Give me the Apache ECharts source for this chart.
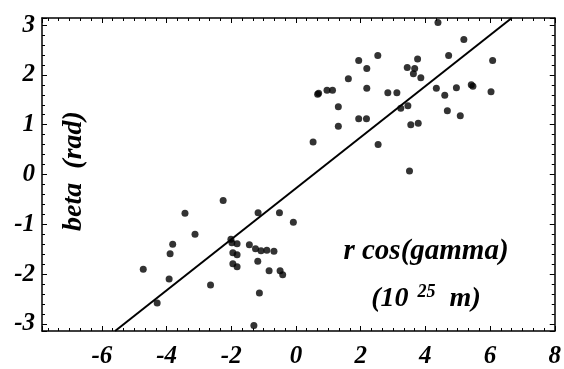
<!DOCTYPE html>
<html>
<head>
<meta charset="utf-8">
<script src="https://cdn.jsdelivr.net/npm/echarts@6/dist/echarts.min.js"></script>
<style>
  html, body { margin: 0; padding: 0; background: #fff; }
  #chart { width: 564px; height: 369px; }
</style>
</head>
<body>
<div id="chart"></div>
<script>
  // r cos(gamma) values, 10^25 m
  var xVals = [-4.72, -4.29, -3.92, -3.89, -3.81, -3.43, -3.12, -2.64, -2.25, -2.01,
    -1.98, -1.82, -1.95, -1.82, -1.95, -1.82, -1.44, -1.25, -1.08, -0.90,
    -0.68, -1.18, -1.17, -0.51, -0.08, -0.83, -0.49, -0.41, -1.13, -1.30,
    0.53, 0.67, 0.70, 0.96, 1.13, 1.31, 1.31, 1.62, 1.94, 1.94,
    2.18, 2.19, 2.19, 2.53, 2.54, 2.84, 3.12, 3.24, 3.46, 3.44,
    3.67, 3.63, 3.86, 3.76, 3.51, 3.55, 3.78, 4.34, 4.39, 4.60,
    4.68, 4.72, 4.96, 5.08, 5.19, 5.42, 5.47, 6.03, 6.08];
  // beta values, rad
  var yVals = [-1.90, -2.58, -2.10, -1.59, -1.40, -0.78, -1.20, -2.22, -0.52, -1.30,
    -1.37, -1.39, -1.57, -1.61, -1.79, -1.85, -1.41, -1.49, -1.53, -1.52,
    -1.54, -1.74, -0.77, -0.77, -0.96, -1.93, -1.93, -2.01, -2.38, -3.03,
    0.65, 1.61, 1.63, 1.69, 1.69, 1.36, 0.97, 1.92, 2.29, 1.12,
    1.12, 2.13, 1.73, 2.39, 0.60, 1.64, 1.64, 1.33, 1.38, 2.15,
    2.13, 2.02, 1.94, 2.32, 0.07, 1.00, 1.03, 1.73, 3.05, 1.59,
    1.28, 2.39, 1.74, 1.18, 2.71, 1.80, 1.77, 1.66, 2.29];
  // fitted line end points
  var fitX = [-5.59, 6.67];
  var fitY = [-3.14, 3.14];

  var xMin = -7.85, xMax = 8;
  var yMin = -Math.PI, yMax = Math.PI;

  var font = '"Liberation Serif", "DejaVu Serif", serif';

  function intLabel(v) {
    return Math.abs(v - Math.round(v)) < 1e-6 ? String(Math.round(v)) : '';
  }

  var points = xVals.map(function (x, i) { return [x, yVals[i]]; });
  var line = fitX.map(function (x, i) { return [x, fitY[i]]; });

  var myChart = echarts.init(document.getElementById('chart'));

  var baseAxis = {
    type: 'value',
    axisLine: { show: true, onZero: false, lineStyle: { color: '#000', width: 1.5 } },
    axisTick: { show: true, inside: true, length: 5, lineStyle: { color: '#000' } },
    splitLine: { show: false },
    minorSplitLine: { show: false }
  };

  var labelStyle = {
    color: '#000', fontSize: 25, fontWeight: 'bold', fontStyle: 'italic',
    fontFamily: font, formatter: intLabel, showMinLabel: false, showMaxLabel: true
  };

  var option = {
    animation: false,
    grid: { left: 42, right: 9, top: 18, bottom: 36 },
    xAxis: [
      Object.assign({}, baseAxis, {
        min: xMin, max: xMax, splitNumber: 8, position: 'bottom',
        minorTick: { show: true, splitNumber: 6, length: 3, lineStyle: { color: '#000' } },
        axisLabel: Object.assign({ margin: 13 }, labelStyle)
      }),
      Object.assign({}, baseAxis, {
        min: xMin, max: xMax, splitNumber: 8, position: 'top',
        minorTick: { show: true, splitNumber: 6, length: 3, lineStyle: { color: '#000' } },
        axisLabel: { show: false }
      })
    ],
    yAxis: [
      Object.assign({}, baseAxis, {
        min: yMin, max: yMax, splitNumber: 6, position: 'left',
        minorTick: { show: true, splitNumber: 5, length: 3, lineStyle: { color: '#000' } },
        axisLabel: Object.assign({ margin: 7 }, labelStyle, { showMaxLabel: false })
      }),
      Object.assign({}, baseAxis, {
        min: yMin, max: yMax, splitNumber: 6, position: 'right',
        minorTick: { show: true, splitNumber: 5, length: 3, lineStyle: { color: '#000' } },
        axisLabel: { show: false }
      })
    ],
    series: [
      {
        type: 'line',
        data: line,
        showSymbol: false,
        lineStyle: { color: '#000', width: 2 },
        z: 2
      },
      {
        type: 'scatter',
        data: points,
        symbol: 'circle',
        symbolSize: 7,
        itemStyle: { color: '#000' },
        z: 3
      }
    ],
    graphic: [
      {
        type: 'text',
        x: 74, y: 171,
        rotation: Math.PI / 2,
        style: {
          text: 'beta  (rad)',
          font: 'italic bold 28px ' + font,
          fill: '#000',
          align: 'center',
          verticalAlign: 'middle'
        }
      },
      {
        type: 'text',
        x: 426, y: 252,
        style: {
          text: 'r cos(gamma)',
          font: 'italic bold 29px ' + font,
          fill: '#000',
          align: 'center',
          verticalAlign: 'middle'
        }
      },
      {
        type: 'text',
        x: 426, y: 298,
        style: {
          text: '{n|(10 }{s|25}{n|  m)}',
          align: 'center',
          verticalAlign: 'middle',
          rich: {
            n: { font: 'italic bold 28px ' + font, fill: '#000', verticalAlign: 'bottom', lineHeight: 30 },
            s: { font: 'italic bold 18px ' + font, fill: '#000', verticalAlign: 'top', lineHeight: 30, padding: [0, 0, 12, 2] }
          }
        }
      }
    ]
  };

  myChart.setOption(option);
</script>
</body>
</html>
